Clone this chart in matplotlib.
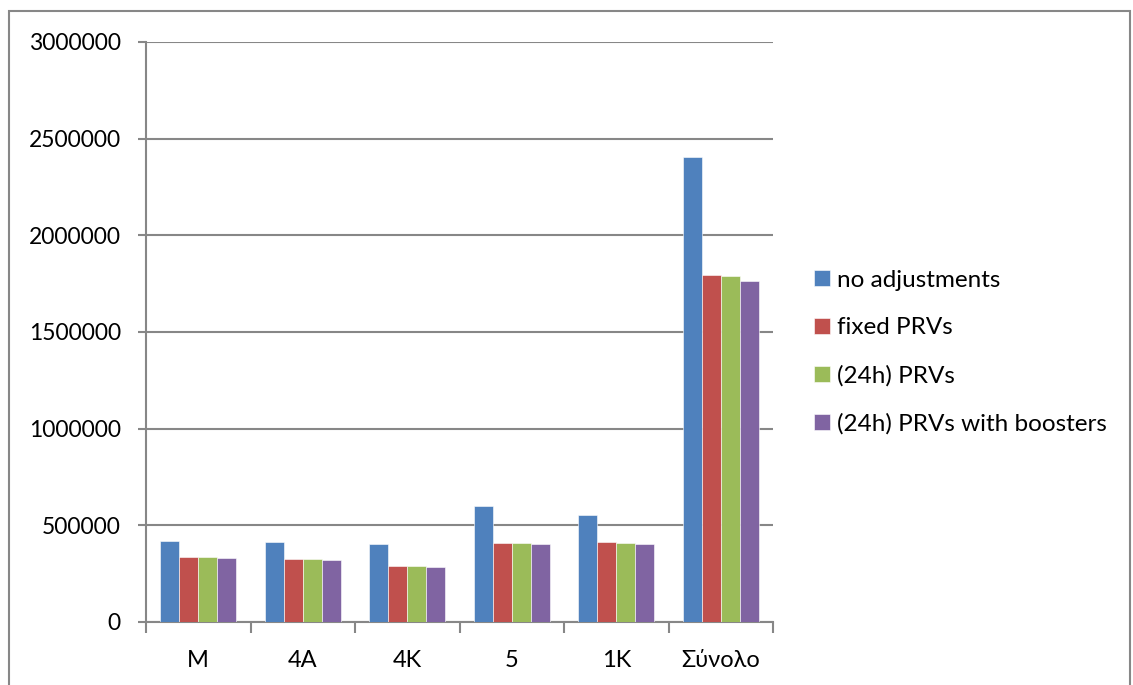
import numpy as np
import matplotlib.pyplot as plt
from matplotlib.patches import Rectangle

plt.rcParams['font.family'] = ['Lato', 'DejaVu Sans']

categories = ['M', '4A', '4K', '5', '1K', 'Σύνολο']
series_names = ['no adjustments', 'fixed PRVs', '(24h) PRVs', '(24h) PRVs with boosters']
no_adjustments = [420000, 416000, 404000, 599000, 552000, 2404000]
fixed_prvs = [334000, 327000, 291000, 410000, 416000, 1794000]
prvs_24h = [334000, 327000, 290000, 410000, 410000, 1788000]
prvs_24h_boosters = [330000, 323000, 287000, 406000, 406000, 1764000]
colors = ['#4F81BD', '#C0504D', '#9BBB59', '#8064A2']

grey = '#878787'

fig = plt.figure(figsize=(11.33, 6.85), dpi=100)
# thin frame round the chart area
fig.patches.append(Rectangle((9 / 1133, -0.01), 1121 / 1133, 1 - 11 / 685 + 0.01,
                             transform=fig.transFigure, fill=False,
                             edgecolor=grey, linewidth=1.5))

ax = fig.add_axes([146 / 1133, 1 - 622 / 685, 627 / 1133, 580 / 685])

x = np.arange(len(categories))
width = 0.182
all_series = [no_adjustments, fixed_prvs, prvs_24h, prvs_24h_boosters]
for i, (vals, name, col) in enumerate(zip(all_series, series_names, colors)):
    ax.bar(x + (i - 1.5) * width, vals, width, color=col, label=name,
           edgecolor='white', linewidth=0.4, zorder=3)

ax.set_xlim(-0.5, len(categories) - 0.5)
ax.set_ylim(0, 3000000)
ax.set_yticks(np.arange(0, 3000001, 500000))
ax.set_yticklabels([str(v) for v in range(0, 3000001, 500000)])
ax.yaxis.grid(True, color=grey, linewidth=1.5, zorder=0)
ax.set_axisbelow(True)

ax.set_xticks(x)
ax.set_xticklabels(categories)
ax.set_xticks(np.arange(-0.5, len(categories)), minor=True)
ax.tick_params(axis='x', which='major', length=0, pad=20, labelsize=17)
ax.tick_params(axis='x', which='minor', length=8, width=1.5, color=grey)
ax.tick_params(axis='y', length=6, width=1.5, color=grey, labelsize=16.5, pad=12)

for side in ['top', 'right']:
    ax.spines[side].set_visible(False)
for side in ['left', 'bottom']:
    ax.spines[side].set_color(grey)
    ax.spines[side].set_linewidth(1.5)

ax.legend(loc='center left', bbox_to_anchor=(1.05, 0.465), frameon=False,
          fontsize=17.5, handlelength=0.65, handleheight=0.65, handletextpad=0.3,
          labelspacing=1.1, borderaxespad=0.0)

fig.savefig('out.png', dpi=100)
